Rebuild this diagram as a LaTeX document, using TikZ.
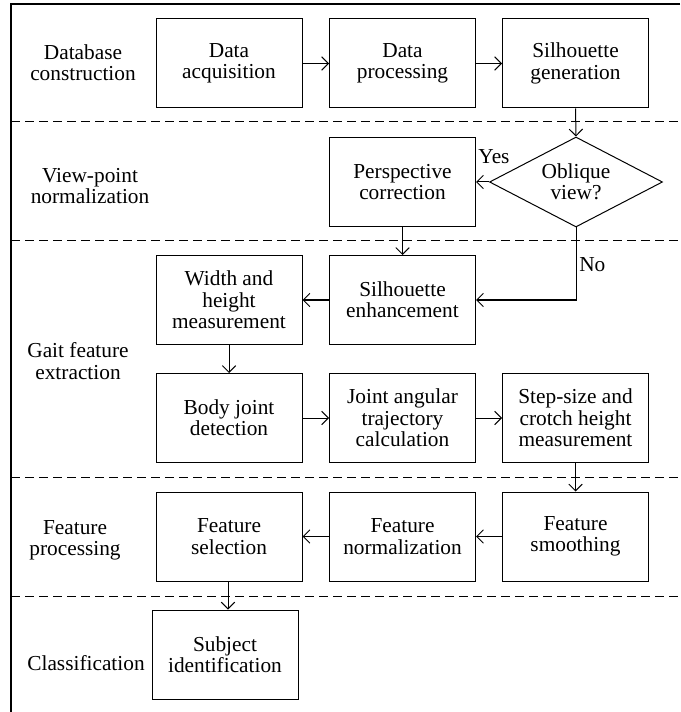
\documentclass[tikz,border=0pt]{standalone}
\usepackage{fontspec}
\setmainfont{Liberation Serif}
\usetikzlibrary{shapes.geometric,arrows.meta}
\begin{document}
\begin{tikzpicture}[x=0.75pt,y=-0.75pt,
  every node/.style={font=\fontsize{16}{16}\selectfont, align=center, inner sep=0pt},
  procbox/.style={draw, line width=0.75pt, minimum width=109.5pt, minimum height=66.75pt},
  decision/.style={draw, line width=0.75pt, diamond, aspect=1.9, minimum width=129.75pt, minimum height=67.5pt},
  flow/.style={line width=0.75pt, -{Straight Barb[length=5pt,width=10pt,line width=0.75pt]}},
  sep/.style={line width=0.75pt, dash pattern=on 6.75pt off 3.75pt},
  stage/.style={}]
\useasboundingbox (0,0) rectangle (680,712);
% frame
\draw[line width=0.8pt] (680,4) -- (11,4) -- (11,712);
% separators
\draw[sep] (11,122) -- (680,122);
\draw[sep] (11,241) -- (680,241);
\draw[sep] (11,477) -- (680,477);
\draw[sep] (11,596) -- (680,596);
% stage labels
\node[stage] (s1) at (83,63) {Database\\construction};
\node[stage] (s2) at (90,186) {View-point\\normalization};
\node[stage] (s3) at (78,361) {Gait feature\\extraction};
\node[stage] (s4) at (75,540) {Feature\\processing};
\node[stage] (s5) at (86,663) {Classification};
% boxes
\node[procbox] (acq) at (229,63.5) {Data\\acquisition};
\node[procbox] (proc) at (402.5,63.5) {Data\\processing};
\node[procbox] (silg) at (575.5,63.5) {Silhouette\\generation};
\node[procbox] (persp) at (402.5,182) {Perspective\\correction};
\node[decision] (obl) at (576,182) {Oblique\\view?};
\node[procbox] (enh) at (402.5,300) {Silhouette\\enhancement};
\node[procbox] (wh) at (229,300) {Width and\\height\\measurement};
\node[procbox] (body) at (229,418) {Body joint\\detection};
\node[procbox] (joint) at (402.5,418) {Joint angular\\trajectory\\calculation};
\node[procbox] (step) at (575.5,418) {Step-size and\\crotch height\\measurement};
\node[procbox] (smooth) at (575.5,536.5) {Feature\\smoothing};
\node[procbox] (norm) at (402.5,536.5) {Feature\\normalization};
\node[procbox] (sel) at (229,536.5) {Feature\\selection};
\node[procbox] (subj) at (225,654.5) {Subject\\identification};
% labels
\node (yes) at (494,157) {Yes};
\node[anchor=west] (no) at (579,265) {No};
\coordinate (turn) at (576,300);
% connectors
\draw[flow] (acq.east) -- (proc.west);
\draw[flow] (proc.east) -- (silg.west);
\draw[flow] (silg.south) -- (obl.north);
\draw[flow] (obl.west) -- (persp.east);
\draw[flow] (persp.south) -- (enh.north);
\draw[flow] (obl.south) -- (turn) -- (enh.east);
\draw[flow] (enh.west) -- (wh.east);
\draw[flow] (wh.south) -- (body.north);
\draw[flow] (body.east) -- (joint.west);
\draw[flow] (joint.east) -- (step.west);
\draw[flow] (step.south) -- (smooth.north);
\draw[flow] (smooth.west) -- (norm.east);
\draw[flow] (norm.west) -- (sel.east);
\draw[flow] ([xshift=-0.75pt]sel.south) -- ([xshift=-0.75pt]sel.south |- subj.north);
\end{tikzpicture}
\end{document}
